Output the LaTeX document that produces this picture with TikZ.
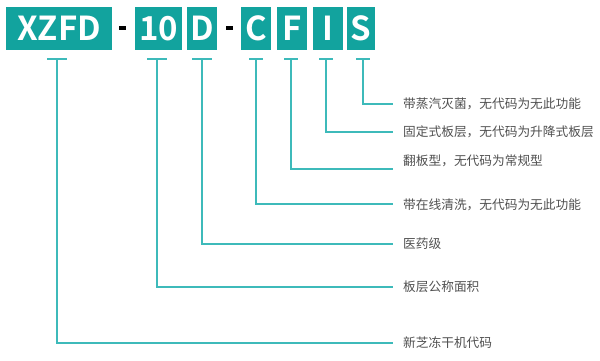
\documentclass[tikz,border=0pt]{standalone}
\usepackage{fontspec}
\setmainfont{Noto Sans CJK SC}
\newfontfamily\cjk{Noto Sans CJK SC}
\newfontfamily\boldcode{Noto Sans CJK SC Bold}
\definecolor{boxteal}{HTML}{12A39E}
\definecolor{lineteal}{HTML}{3DBABA}
\definecolor{labelgray}{HTML}{505050}
\begin{document}
\begin{tikzpicture}[x=1pt,y=-1pt,
  codebox/.style={fill=boxteal,inner sep=0pt,text=white,font=\boldcode\fontsize{33}{33}\selectfont},
  dashbar/.style={fill=black,draw=none},
  leader/.style={draw=lineteal,line width=1.4pt},
  tbar/.style={draw=lineteal,line width=1.4pt},
  desc/.style={anchor=west,inner sep=0pt,text=labelgray,font=\cjk\fontsize{12.7}{14}\selectfont}
]
\useasboundingbox (0,0) rectangle (600,361);
% boxes
\node[codebox,minimum width=106pt,minimum height=43pt] (bx) at (59,28.5) {XZFD};
\node[codebox,minimum width=47pt,minimum height=43pt] (b10) at (158.5,28.5) {10};
\node[codebox,minimum width=30pt,minimum height=43pt] (bd) at (202,28.5) {D};
\node[codebox,minimum width=30pt,minimum height=43pt] (bc) at (256,28.5) {C};
\node[codebox,minimum width=30pt,minimum height=43pt] (bf) at (292,28.5) {F};
\node[codebox,minimum width=30pt,minimum height=43pt] (bi) at (328,28.5) {I};
\node[codebox,minimum width=28pt,minimum height=43pt] (bs) at (361,28.5) {S};
% dashes
\fill[dashbar] (119,26) rectangle (126,30.5);
\fill[dashbar] (226,26) rectangle (233,30.5);
% T tops
\coordinate (tx) at (57,59);
\coordinate (t10) at (157,59);
\coordinate (td) at (202,59);
\coordinate (tc) at (256,59);
\coordinate (tf) at (291,59);
\coordinate (ti) at (326,59);
\coordinate (ts) at (363,59);
\draw[tbar] ([xshift=-10pt]tx) -- ([xshift=10pt]tx);
\draw[tbar] ([xshift=-10pt]t10) -- ([xshift=10pt]t10);
\draw[tbar] ([xshift=-10pt]td) -- ([xshift=10pt]td);
\draw[tbar] ([xshift=-7pt]tc) -- ([xshift=7pt]tc);
\draw[tbar] ([xshift=-7pt]tf) -- ([xshift=7pt]tf);
\draw[tbar] ([xshift=-7pt]ti) -- ([xshift=7pt]ti);
\draw[tbar] ([xshift=-7pt]ts) -- ([xshift=7pt]ts);
% labels
\node[desc] (ls) at (403,104) {带蒸汽灭菌，无代码为无此功能};
\node[desc] (li) at (403,132) {固定式板层，无代码为升降式板层};
\node[desc] (lf) at (403,161) {翻板型，无代码为常规型};
\node[desc] (lc) at (403,204.5) {带在线清洗，无代码为无此功能};
\node[desc] (ld) at (403,243.5) {医药级};
\node[desc] (l10) at (403,287) {板层公称面积};
\node[desc] (lx) at (403,343) {新芝冻干机代码};
% leader ends
\coordinate (es) at (393,104);
\coordinate (ei) at (393,132);
\coordinate (ef) at (393,169);
\coordinate (ec) at (393,204);
\coordinate (ed) at (393,244);
\coordinate (e10) at (393,287);
\coordinate (ex) at (393,343);
\draw[leader] (ts) |- (es);
\draw[leader] (ti) |- (ei);
\draw[leader] (tf) |- (ef);
\draw[leader] (tc) |- (ec);
\draw[leader] (td) |- (ed);
\draw[leader] (t10) |- (e10);
\draw[leader] (tx) |- (ex);
\end{tikzpicture}
\end{document}
